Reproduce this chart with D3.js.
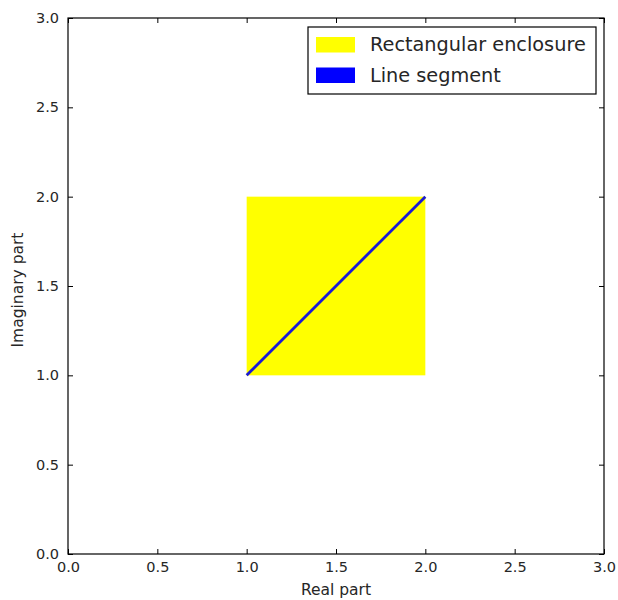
<!DOCTYPE html>
<html>
<head>
<meta charset="utf-8">
<script src="https://cdn.jsdelivr.net/npm/d3@7"></script>
<style>
  body { margin: 0; background: #fff; }
  text { font-family: "DejaVu Sans", sans-serif; fill: #262626; }
</style>
</head>
<body>
<div id="chart"></div>
<script>
// data
var xTicks = [0.0, 0.5, 1.0, 1.5, 2.0, 2.5, 3.0];
var yTicks = [0.0, 0.5, 1.0, 1.5, 2.0, 2.5, 3.0];
var rectCorners = [[1, 1], [2, 2]];      // lower-left, upper-right
var segment = [[1, 1], [2, 2]];
var legendNames = ["Rectangular enclosure", "Line segment"];
var legendColors = ["yellow", "blue"];

var margin = {top: 18, right: 14, bottom: 46, left: 68},
    width = 604 - 68,
    height = 554 - 18;

var svg = d3.select("#chart")
  .append("svg")
    .attr("width", 618)
    .attr("height", 600)
  .append("g")
    .attr("transform", "translate(" + margin.left + "," + margin.top + ")");

var x = d3.scaleLinear().domain([0, 3]).range([0, width]);
var y = d3.scaleLinear().domain([0, 3]).range([height, 0]);

// rectangle
svg.append("rect")
  .attr("x", x(rectCorners[0][0]))
  .attr("y", y(rectCorners[1][1]))
  .attr("width", x(rectCorners[1][0]) - x(rectCorners[0][0]))
  .attr("height", y(rectCorners[0][1]) - y(rectCorners[1][1]))
  .attr("fill", "yellow");

// line
svg.append("path")
  .datum(segment)
  .attr("fill", "none")
  .attr("stroke", "#1a1ad6")
  .attr("stroke-width", 2.8)
  .attr("d", d3.line()
    .x(function(d) { return x(d[0]); })
    .y(function(d) { return y(d[1]); }));

// axes (ticks inward, on all sides)
var fmt = d3.format(".1f");
function styleAxis(g) {
  g.select(".domain").remove();
  g.selectAll("line").attr("stroke", "#000");
  g.selectAll("text").attr("font-size", "14.5px").attr("fill", "#262626");
}
svg.append("g")
  .attr("transform", "translate(0," + height + ")")
  .call(d3.axisBottom(x).tickValues(xTicks).tickFormat(fmt).tickSizeInner(-5).tickSizeOuter(0).tickPadding(8))
  .call(styleAxis);
svg.append("g")
  .call(d3.axisTop(x).tickValues(xTicks).tickFormat("").tickSizeInner(-5).tickSizeOuter(0))
  .call(styleAxis);
svg.append("g")
  .call(d3.axisLeft(y).tickValues(yTicks).tickFormat(fmt).tickSizeInner(-5).tickSizeOuter(0).tickPadding(9))
  .call(styleAxis);
svg.append("g")
  .attr("transform", "translate(" + width + ",0)")
  .call(d3.axisRight(y).tickValues(yTicks).tickFormat("").tickSizeInner(-5).tickSizeOuter(0))
  .call(styleAxis);

// frame
svg.append("rect")
  .attr("width", width)
  .attr("height", height)
  .attr("fill", "none")
  .attr("stroke", "#000")
  .attr("stroke-width", 1.2);

// axis labels
svg.append("text")
  .attr("x", width / 2)
  .attr("y", height + 41)
  .attr("text-anchor", "middle")
  .attr("font-size", "15.5px")
  .text("Real part");
svg.append("text")
  .attr("transform", "translate(" + (-45) + "," + (height / 2 + 4) + ") rotate(-90)")
  .attr("text-anchor", "middle")
  .attr("font-size", "15.5px")
  .text("Imaginary part");

// legend
var lg = svg.append("g")
  .attr("transform", "translate(" + (308 - margin.left) + "," + (27 - margin.top) + ")");
lg.append("rect")
  .attr("width", 288)
  .attr("height", 67)
  .attr("fill", "#fff")
  .attr("stroke", "#000")
  .attr("stroke-width", 1.2);
var items = lg.selectAll(".item")
  .data(legendNames)
  .enter()
  .append("g")
    .attr("transform", function(d, i) { return "translate(8," + (10 + i * 30.5) + ")"; });
items.append("rect")
  .attr("width", 39)
  .attr("height", 15.5)
  .attr("fill", function(d, i) { return legendColors[i]; });
items.append("text")
  .attr("x", 54)
  .attr("y", 14)
  .attr("font-size", "19.3px")
  .text(function(d) { return d; });
</script>
</body>
</html>
